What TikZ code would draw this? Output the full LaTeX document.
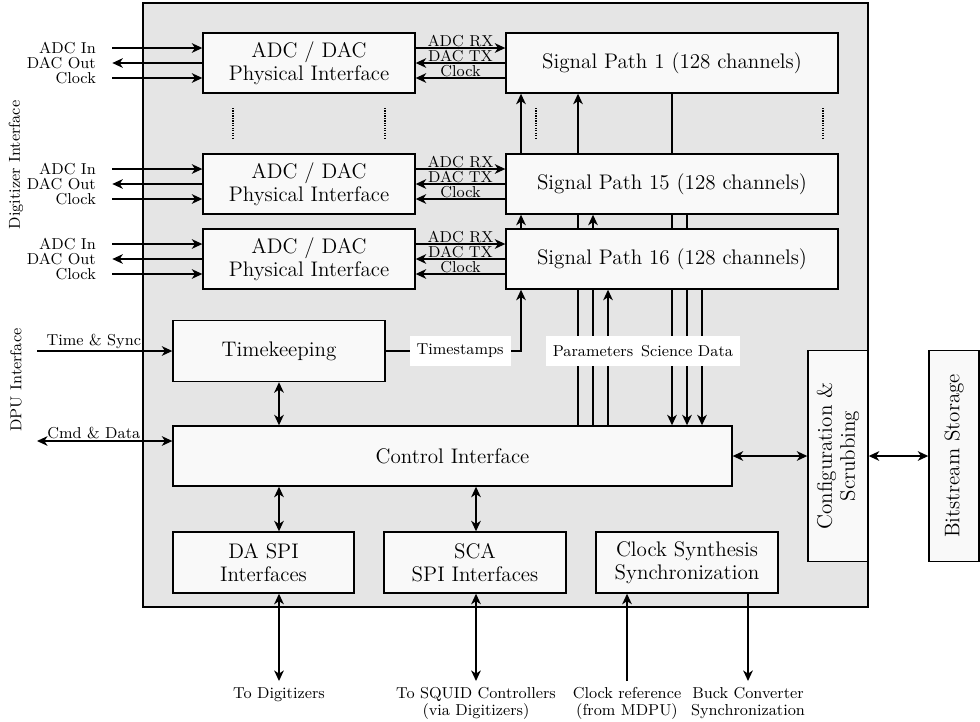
\documentclass[tikz,border=0pt]{standalone}
\usepackage{tikz}
\usetikzlibrary{positioning}
\usetikzlibrary{arrows.meta}
\tikzstyle{block} = [rectangle, draw, thick, fill=gray!5, font=\large, align=center, inner sep=2pt]
\tikzstyle{line} = [draw, thick, -{Stealth[length=6pt,width=5.5pt,inset=1.8pt]}]
\tikzstyle{dline} = [draw, thick, {Stealth[length=6pt,width=5.5pt,inset=1.8pt]}-{Stealth[length=6pt,width=5.5pt,inset=1.8pt]}]
\tikzstyle{wire} = [draw, thick]
\tikzstyle{lbl} = [font=\small, inner sep=1pt]
\tikzstyle{ext} = [font=\small, align=center, anchor=north]
\tikzstyle{tag} = [font=\small, fill=white, minimum height=17pt, inner xsep=4pt]
\tikzstyle{dots} = [draw, line width=0.8pt, dash pattern=on 0.7pt off 0.7pt]

\begin{document}
\begin{tikzpicture}[x=0.02cm, y=-0.02cm]
			\useasboundingbox (0,0) rectangle (980,721);
			\draw [thick, fill=gray!20] (143,3) rectangle (868,607);
			\node [block, minimum width=4.24cm, minimum height=1.2cm] (adc1) at (309,63) {ADC / DAC\\[-1pt]Physical Interface};
			\node [block, minimum width=4.24cm, minimum height=1.2cm] (adc15) at (309,184) {ADC / DAC\\[-1pt]Physical Interface};
			\node [block, minimum width=4.24cm, minimum height=1.2cm] (adc16) at (309,259) {ADC / DAC\\[-1pt]Physical Interface};
			\node [block, minimum width=6.64cm, minimum height=1.2cm] (sp1) at (672,63) {Signal Path 1 (128 channels)};
			\node [block, minimum width=6.64cm, minimum height=1.2cm] (sp15) at (672,184) {Signal Path 15 (128 channels)};
			\node [block, minimum width=6.64cm, minimum height=1.2cm] (sp16) at (672,259) {Signal Path 16 (128 channels)};
			\node [block, minimum width=4.24cm, minimum height=1.22cm] (timek) at (279,351) {Timekeeping};
			\node [block, minimum width=11.18cm, minimum height=1.2cm] (ctrl) at (452.5,456) {Control Interface};
			\node [block, minimum width=3.62cm, minimum height=1.22cm] (daspi) at (263.5,562.5) {DA SPI\\[-1pt]Interfaces};
			\node [block, minimum width=3.64cm, minimum height=1.22cm] (sca) at (475,562.5) {SCA\\[-1pt]SPI Interfaces};
			\node [block, minimum width=3.64cm, minimum height=1.22cm] (clk) at (687,562.5) {Clock Synthesis\\[-1pt]Synchronization};
			\node [block, rotate=90, minimum width=4.22cm, minimum height=1.2cm] (conf) at (838,456) {Configuration \&\\[-1pt]Scrubbing};
			\node [block, rotate=90, minimum width=4.22cm, minimum height=1cm] (bits) at (954,456) {Bitstream Storage};
			\node [lbl, rotate=90] (digif) at (16,165) {Digitizer Interface};
			\node [lbl, rotate=90] (dpuif) at (16,380) {DPU Interface};
			\foreach \a/\s in {adc1/sp1, adc15/sp15, adc16/sp16} {
				\path [line] ([yshift=0.3cm]\a.east) -- node[lbl, above, inner sep=0.5pt]{ADC RX} ([yshift=0.3cm]\s.west);
				\path [line] (\s.west) -- node[lbl, above, inner sep=0.5pt]{DAC TX} (\a.east);
				\path [line] ([yshift=-0.3cm]\s.west) -- node[lbl, above, inner sep=0.5pt]{Clock} ([yshift=-0.3cm]\a.east);
				\path [line] ([xshift=-1.8cm,yshift=0.3cm]\a.west) node[lbl, left=8pt]{ADC In} -- ([yshift=0.3cm]\a.west);
				\path [line] (\a.west) -- ([xshift=-1.8cm]\a.west) node[lbl, left=8pt]{DAC Out};
				\path [line] ([xshift=-1.8cm,yshift=-0.3cm]\a.west) node[lbl, left=8pt]{Clock} -- ([yshift=-0.3cm]\a.west);
			}
			\path [dots] (233,108) -- (233,138);
			\path [dots] (385,108) -- (385,138);
			\path [dots] (536,108) -- (536,138);
			\path [dots] (823,108) -- (823,138);
			\coordinate (tsin) at (37,351);
			\coordinate (cmdin) at (37,441);
			\path [line] (tsin) -- node[lbl, above, pos=0.42]{Time \& Sync} (tsin -| timek.west);
			\path [dline] (cmdin) -- node[lbl, above, pos=0.42]{Cmd \& Data} (cmdin -| ctrl.west);
			\path [dline] (timek.south) -- (timek.south |- ctrl.north);
			\coordinate (ts) at (521,351);
			\coordinate (pa) at (578,351);
			\coordinate (pb) at (593,351);
			\coordinate (pc) at (608,351);
			\coordinate (sa) at (672,351);
			\coordinate (sb) at (687,351);
			\coordinate (sc) at (702,351);
			\path [line] (timek.east) -- node[tag, pos=0.55]{Timestamps} (ts) -- (ts |- sp16.south);
			\path [line] (ts |- sp16.north) -- (ts |- sp15.south);
			\path [line] (ts |- sp15.north) -- (ts |- sp1.south);
			\path [wire] (pa |- ctrl.north) -- (pa |- sp16.south);
			\path [wire] (pb |- ctrl.north) -- (pb |- sp16.south);
			\path [line] (pc |- ctrl.north) -- (pc |- sp16.south);
			\path [wire] (pa |- sp16.north) -- (pa |- sp15.south);
			\path [line] (pb |- sp16.north) -- (pb |- sp15.south);
			\path [line] (pa |- sp15.north) -- (pa |- sp1.south);
			\path [wire] (sa |- sp1.south) -- (sa |- sp15.north);
			\path [wire] (sa |- sp15.south) -- (sa |- sp16.north);
			\path [wire] (sb |- sp15.south) -- (sb |- sp16.north);
			\path [line] (sa |- sp16.south) -- (sa |- ctrl.north);
			\path [line] (sb |- sp16.south) -- (sb |- ctrl.north);
			\path [line] (sc |- sp16.south) -- (sc |- ctrl.north);
			\node [tag] (params) at (pb) {Parameters};
			\node [tag] (scidata) at (sb) {Science Data};
			\path [dline] (ctrl.east) -- (conf.north);
			\path [dline] (conf.south) -- (bits.north);
			\node [ext] (todig) at (279,681) {To Digitizers};
			\node [ext] (tosquid) at (476,681) {To SQUID Controllers\\[-1.5pt](via Digitizers)};
			\node [ext] (clkref) at (627,681) {Clock reference\\[-1.5pt](from MDPU)};
			\node [ext] (buck) at (748,681) {Buck Converter\\[-1.5pt]Synchronization};
			\path [dline] (todig.north |- ctrl.south) -- (todig.north |- daspi.north);
			\path [dline] (todig.north |- daspi.south) -- (todig.north);
			\path [dline] (tosquid.north |- ctrl.south) -- (tosquid.north |- sca.north);
			\path [dline] (tosquid.north |- sca.south) -- (tosquid.north);
			\path [line] (clkref.north) -- (clkref.north |- clk.south);
			\path [line] (buck.north |- clk.south) -- (buck.north);
\end{tikzpicture}
\end{document}
